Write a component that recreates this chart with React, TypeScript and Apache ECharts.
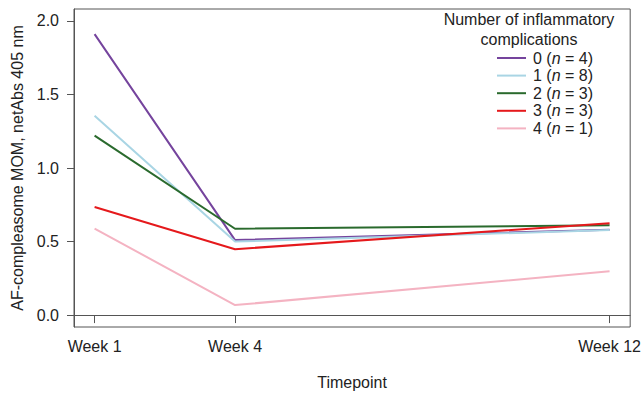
import React, { useEffect, useRef } from "react";
import * as echarts from "echarts";

const weeks = [1, 4, 12];
const weekLabels = ["Week 1", "Week 4", "Week 12"];
const yTicks = [0, 0.5, 1.0, 1.5, 2.0];
const complications = ["0", "1", "2", "3", "4"];
const counts = [4, 8, 3, 3, 1];
const values0 = [1.91, 0.51, 0.58];
const values1 = [1.355, 0.5, 0.578];
const values2 = [1.22, 0.587, 0.61];
const values3 = [0.735, 0.448, 0.625];
const values4 = [0.588, 0.068, 0.298];
const allValues = [values0, values1, values2, values3, values4];
const colors = ["#75449d", "#a9d5e4", "#2a6a2d", "#e5191c", "#f4b3c2"];

const FONT = "'Liberation Sans', Arial, sans-serif";
const TXT = "#222222";

export default function App() {
  const ref = useRef<HTMLDivElement>(null);
  useEffect(() => {
    document.body.style.margin = "0";
    const chart = echarts.init(ref.current!, null, { renderer: "svg" });
    const series = complications.map((c, i) => ({
      name: `${c} (n = ${counts[i]})`,
      type: "line",
      data: weeks.map((w, j) => [w, allValues[i][j]]),
      symbol: "none",
      showSymbol: false,
      lineStyle: { color: colors[i], width: 2 },
      itemStyle: { color: colors[i] },
      emphasis: { disabled: true },
    }));
    chart.setOption({
      animation: false,
      textStyle: { fontFamily: FONT },
      grid: {
        left: 74,
        top: 9,
        right: 12,
        bottom: 67,
        show: true,
        borderColor: "#555",
        borderWidth: 1,
        containLabel: false,
      },
      graphic: [
        {
          type: "text",
          x: 529,
          y: 9,
          style: {
            text: "Number of inflammatory\ncomplications",
            textAlign: "center",
            fontSize: 16,
            lineHeight: 20,
            fontFamily: FONT,
            fill: TXT,
          },
        },
      ],
      legend: {
        orient: "vertical",
        left: 497,
        top: 50,
        padding: 0,
        itemWidth: 29,
        itemHeight: 12,
        itemGap: 1.6,
        data: series.map((s, i) => ({
          name: s.name,
          icon: "path://M0,0 L29,0 L29,2 L0,2 Z",
          itemStyle: { color: colors[i] },
        })),
        formatter: (name: string) => {
          const m = name.match(/^(\d+) \(n = (\d+)\)$/);
          if (!m) return name;
          return `{a|${m[1]} (}{i|n}{a| = ${m[2]})}`;
        },
        textStyle: {
          color: TXT,
          padding: [0, 0, 0, 2],
          rich: {
            a: { fontSize: 16, fontFamily: FONT, color: TXT, lineHeight: 16 },
            i: {
              fontSize: 16,
              fontFamily: FONT,
              fontStyle: "italic",
              color: TXT,
              lineHeight: 16,
            },
          },
        },
      },
      xAxis: {
        type: "value",
        min: 0.56,
        max: 12.44,
        name: "Timepoint",
        nameLocation: "middle",
        nameGap: 47,
        nameTextStyle: { fontSize: 16, color: TXT, fontFamily: FONT },
        axisLine: { show: true, lineStyle: { color: "#555" } },
        axisTick: {
          show: true,
          length: 8,
          customValues: weeks,
          lineStyle: { color: "#555" },
        },
        axisLabel: {
          customValues: weeks,
          formatter: (v: number) => weekLabels[weeks.indexOf(v)] ?? "",
          fontSize: 16,
          color: TXT,
          margin: 11,
          fontFamily: FONT,
        },
        splitLine: { show: false },
      },
      yAxis: {
        type: "value",
        min: -0.081,
        max: 2.081,
        name: "AF-compleasome MOM, netAbs 405 nm",
        nameLocation: "middle",
        nameGap: 49,
        nameTextStyle: { fontSize: 16, color: TXT, fontFamily: FONT },
        axisLine: { show: true, lineStyle: { color: "#555" } },
        axisTick: {
          show: true,
          length: 7,
          customValues: yTicks,
          lineStyle: { color: "#555" },
        },
        axisLabel: {
          customValues: yTicks,
          formatter: (v: number) => v.toFixed(1),
          fontSize: 16,
          color: TXT,
          margin: 15,
          fontFamily: FONT,
        },
        splitLine: { show: false },
      },
      series,
    });
    return () => chart.dispose();
  }, []);
  return <div ref={ref} style={{ width: 644, height: 395 }} />;
}
